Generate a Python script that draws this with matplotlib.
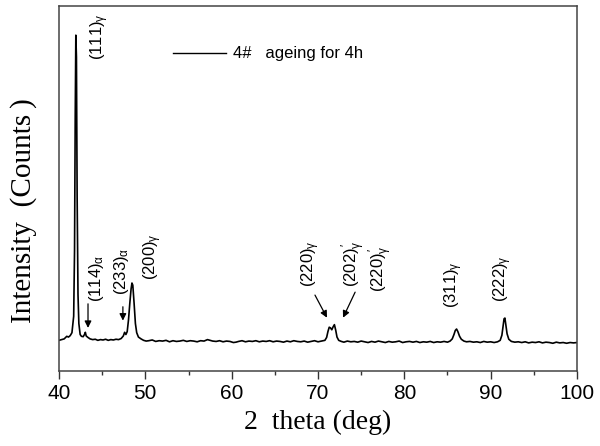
import matplotlib
matplotlib.use("Agg")
import matplotlib.pyplot as plt

# ---- data (2 theta in deg, intensity in arbitrary units) ----
two_theta = [
    40.0, 40.3, 40.6, 40.9, 41.1, 41.3, 41.5, 41.7, 41.8, 41.88, 41.95, 42.02, 42.1, 42.2,
    42.3, 42.45, 42.6, 42.8, 42.95, 43.05, 43.15, 43.35, 43.6, 43.9, 44.2, 44.5, 44.8,
    45.1, 45.4, 45.7, 46.0, 46.3, 46.6, 46.9, 47.2, 47.45, 47.6, 47.75, 47.9, 48.05, 48.2,
    48.35, 48.45, 48.55, 48.7, 48.85, 49.0, 49.2, 49.5, 49.8, 50.1, 50.4, 50.8, 51.2,
    51.6, 52.0, 52.4, 52.8, 53.2, 53.6, 54.0, 54.4, 54.8, 55.2, 55.6, 56.0, 56.4, 56.8,
    57.2, 57.5, 57.8, 58.2, 58.6, 59.0, 59.4, 59.8, 60.2, 60.5, 60.8, 61.2, 61.6, 62.0,
    62.4, 62.8, 63.2, 63.6, 64.0, 64.4, 64.8, 65.2, 65.6, 66.0, 66.4, 66.8, 67.2, 67.6,
    68.0, 68.4, 68.8, 69.2, 69.6, 70.0, 70.4, 70.8, 71.0, 71.15, 71.3, 71.45, 71.6,
    71.75, 71.9, 72.05, 72.2, 72.4, 72.7, 73.0, 73.4, 73.8, 74.2, 74.6, 75.0, 75.4,
    75.8, 76.2, 76.6, 77.0, 77.4, 77.8, 78.2, 78.6, 79.0, 79.4, 79.8, 80.2, 80.6, 81.0,
    81.4, 81.8, 82.2, 82.6, 83.0, 83.4, 83.8, 84.2, 84.6, 85.0, 85.3, 85.55, 85.75,
    85.9, 86.05, 86.2, 86.4, 86.6, 86.9, 87.2, 87.6, 88.0, 88.4, 88.8, 89.2, 89.6, 90.0,
    90.4, 90.8, 91.1, 91.3, 91.45, 91.55, 91.65, 91.75, 91.9, 92.1, 92.4, 92.8, 93.2,
    93.6, 94.0, 94.4, 94.8, 95.2, 95.6, 96.0, 96.4, 96.8, 97.2, 97.6, 98.0, 98.4, 98.8,
    99.2, 99.6, 100.0,
]
intensity = [
    84, 86, 88, 95, 93, 97, 105, 150, 330, 700, 920, 860, 480, 210,
    130, 100, 95, 94, 100, 106, 96, 92, 88, 86, 87, 84, 86,
    85, 87, 84, 86, 85, 87, 86, 89, 96, 106, 100, 108, 140, 185,
    225, 241, 235, 185, 130, 105, 93, 88, 84, 82, 83, 85, 81,
    83, 82, 84, 80, 83, 81, 82, 84, 81, 83, 82, 80, 83, 82,
    86, 84, 82, 81, 83, 80, 82, 81, 78, 79, 81, 83, 80, 82,
    81, 83, 80, 82, 81, 83, 80, 82, 81, 79, 82, 80, 83, 81,
    80, 82, 79, 81, 83, 80, 82, 84, 92, 108, 120, 118, 113,
    121, 127, 112, 93, 84, 81, 79, 82, 80, 81, 79, 82, 80,
    78, 81, 79, 82, 80, 78, 81, 79, 80, 82, 78, 80, 81, 79,
    81, 78, 80, 79, 81, 78, 80, 79, 81, 79, 82, 88, 100,
    111, 115, 108, 95, 87, 82, 80, 81, 79, 80, 78, 81, 79, 80,
    78, 80, 84, 98, 125, 143, 145, 128, 102, 87, 81, 79, 80,
    78, 80, 77, 79, 78, 80, 77, 79, 78, 76, 79, 77, 78, 76,
    78, 77, 78,
]

legend_text = "4#   ageing for 4h"
x_label = "2  theta (deg)"
y_label = "Intensity\u2002(Counts\u2009)"
x_ticks = [40, 50, 60, 70, 80, 90, 100]

# peak labels: (text, x, y of bottom)
peak_labels = [
    (r"(111)$_{\mathrm{γ}}$", 44.75, 852),
    (r"(114)$_{\mathrm{α}}$", 44.4, 189),
    (r"(233)$_{\mathrm{α}}$", 47.2, 208),
    (r"(200)$_{\mathrm{γ}}$", 50.8, 249),
    (r"(220)$_{\mathrm{γ}}$", 69.1, 230),
    (r"(202)$_{\mathrm{γ}}^{\,\prime}$", 74.2, 230),
    (r"(220)$_{\mathrm{γ}}^{\,\prime}$", 77.3, 216),
    (r"(311)$_{\mathrm{γ}}$", 85.75, 173),
    (r"(222)$_{\mathrm{γ}}$", 91.4, 189),
]
# arrows: (x_start, y_start, x_end, y_end)
arrows = [
    (43.36, 184, 43.36, 118),
    (47.4, 176, 47.4, 138),
    (69.65, 208, 71.04, 146),
    (74.3, 216, 72.9, 146),
]

plt.rcParams["mathtext.fontset"] = "custom"
plt.rcParams["mathtext.rm"] = "Liberation Sans"
plt.rcParams["mathtext.it"] = "Liberation Sans"

fig = plt.figure(figsize=(6.0, 4.46), dpi=100)
ax = fig.add_axes([59 / 600, 1 - 371 / 446, (577 - 59) / 600, (371 - 6) / 446])

ax.plot(two_theta, intensity, color="black", lw=1.2)

ax.set_xlim(40, 100)
ax.set_ylim(0, 1000)
ax.set_xticks(x_ticks)
ax.set_xticks([45, 55, 65, 75, 85, 95], minor=True)
ax.set_yticks([])
ax.tick_params(axis="x", which="major", direction="out", length=6, width=1.0,
               pad=3.5, labelsize=15, color="#333333")
ax.tick_params(axis="x", which="minor", direction="out", length=3, width=1.0, color="#333333")
for lab in ax.get_xticklabels():
    lab.set_fontfamily("Liberation Sans")
for sp in ax.spines.values():
    sp.set_linewidth(1.1)
    sp.set_color("#444444")

ax.set_xlabel(x_label, fontfamily="Liberation Serif", fontsize=20, labelpad=5)
ax.set_ylabel(y_label, fontfamily="Liberation Serif", fontsize=21)
ax.yaxis.set_label_coords(-0.043, 0.44)

# legend-like entry
ax.plot([53.2, 59.4], [871, 871], color="black", lw=1.0)
ax.text(60.1, 871, legend_text, fontfamily="Liberation Sans", fontsize=12,
        va="center", ha="left")

for txt, x, y in peak_labels:
    ax.text(x, y, txt, rotation=90, ha="center", va="bottom",
            fontfamily="Liberation Sans", fontsize=12)

for x0, y0, x1, y1 in arrows:
    ax.annotate("", xy=(x1, y1), xytext=(x0, y0),
                arrowprops=dict(arrowstyle="-|>", color="black", lw=0.9,
                                mutation_scale=10, shrinkA=0, shrinkB=0))

fig.savefig("out.png", dpi=100)
